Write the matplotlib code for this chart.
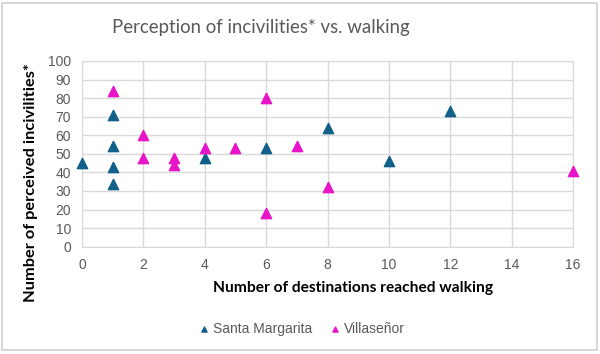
import matplotlib.pyplot as plt
from matplotlib.patches import Rectangle

# DATA
sm_x = [0, 1, 1, 1, 1, 4, 6, 8, 10, 12]
sm_y = [45, 71, 54, 43, 34, 48, 53, 64, 46, 73]
vi_x = [1, 2, 2, 3, 3, 4, 5, 6, 6, 7, 8, 16]
vi_y = [84, 60, 48, 48, 44, 53, 53, 80, 18, 54, 32, 41]
x_ticks = list(range(0, 17, 2))
y_ticks = list(range(0, 101, 10))

blue = '#10608A'
pink = '#E815C8'
gray = '#595959'

fig = plt.figure(figsize=(6, 3.54), dpi=100)
fig.patches.append(Rectangle((0.004, 0.01), 0.991, 0.982, transform=fig.transFigure,
                             fill=False, edgecolor='#D0D0D0', linewidth=1.2))
ax = fig.add_axes([82 / 600, 1 - 246.7 / 354, (573 - 82) / 600, (246.7 - 61) / 354])

ax.scatter(sm_x, sm_y, marker='^', s=55, color=blue, label='Santa Margarita', zorder=3, clip_on=False)
ax.scatter(vi_x, vi_y, marker='^', s=55, color=pink, label='Villaseñor', zorder=3, clip_on=False)

ax.set_xlim(0, 16)
ax.set_ylim(0, 100)
ax.set_xticks(x_ticks)
ax.set_yticks(y_ticks)
ax.grid(True, color='#D9D9D9', linewidth=1.0)
ax.set_axisbelow(True)
for s in ax.spines.values():
    s.set_color('#D9D9D9')
ax.tick_params(length=0, labelsize=10, labelcolor=gray, pad=8)
for lab in ax.get_xticklabels() + ax.get_yticklabels():
    lab.set_fontfamily('Liberation Sans')

fig.text(261 / 600, 1 - 27 / 354, 'Perception of incivilities* vs. walking', ha='center', va='center',
         fontsize=13.4, color=gray, family='Lato')
fig.text(353 / 600, 1 - 288 / 354, 'Number of destinations reached walking', ha='center', va='center',
         fontsize=11.2, fontweight='bold', color='black', family='Lato')
fig.text(31 / 600, 1 - 183 / 354, 'Number of perceived incivilities*', ha='center', va='center',
         rotation=90, fontsize=11.8, fontweight='bold', color='black', family='Lato')

leg = fig.legend(loc='center', bbox_to_anchor=(301 / 600, 1 - 329 / 354), ncol=2, frameon=False,
                 handletextpad=0.1, columnspacing=1.2, markerscale=0.5, handlelength=1.0,
                 prop={'family': 'Liberation Sans', 'size': 10})
for t in leg.get_texts():
    t.set_color(gray)

fig.savefig('out.png', dpi=100)
